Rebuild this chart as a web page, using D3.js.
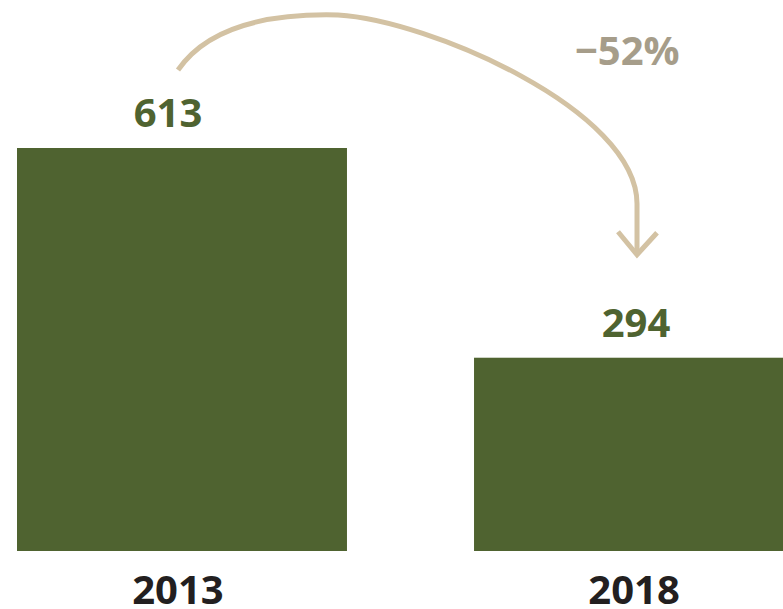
<!DOCTYPE html>
<html>
<head>
<meta charset="utf-8">
<script src="https://cdn.jsdelivr.net/npm/d3@7"></script>
<style>
  body { margin: 0; background: #fff; }
  svg text { font-family: "Open Sans", sans-serif; font-weight: 700; }
</style>
</head>
<body>
<div id="chart"></div>
<script>
const years = ["2013", "2018"];
const values = [613, 294];
const changeLabel = ["\u221252%"];

const width = 783;
const height = 609;
const barColor = "#4f6330";
const arrowColor = "#d3c2a3";

const svg = d3.select("#chart").append("svg")
  .attr("width", width)
  .attr("height", height);

//------------------------------------------------------------- scales
let x = d3.scaleBand()
  .domain(years)
  .range([17, 804])
  .paddingInner(0.278)
  .paddingOuter(0);

let y = d3.scaleLinear()
  .domain([0, 613])
  .range([551, 148]);

let data = years.map((d, i) => ({ year: d, value: values[i] }));

//------------------------------------------------------------- bars
svg.selectAll("rect.bar")
  .data(data)
  .enter().append("rect")
  .attr("class", "bar")
  .attr("x", d => x(d.year))
  .attr("y", d => y(d.value))
  .attr("width", x.bandwidth())
  .attr("height", d => y(0) - y(d.value))
  .attr("fill", barColor);

//------------------------------------------------------------- value labels
const labelShift = [-14, -3];
svg.selectAll("text.value")
  .data(data)
  .enter().append("text")
  .attr("class", "value")
  .attr("x", (d, i) => x(d.year) + x.bandwidth() / 2 + labelShift[i])
  .attr("y", d => y(d.value) - 21)
  .attr("text-anchor", "middle")
  .attr("font-size", 40)
  .attr("fill", barColor)
  .text(d => d.value);

//------------------------------------------------------------- year labels
const yearShift = [-4, -5];
svg.selectAll("text.year")
  .data(data)
  .enter().append("text")
  .attr("class", "year")
  .attr("x", (d, i) => x(d.year) + x.bandwidth() / 2 + yearShift[i])
  .attr("y", 604)
  .attr("text-anchor", "middle")
  .attr("font-size", 40)
  .attr("fill", "#231f20")
  .text(d => d.year);

//------------------------------------------------------------- arrow
let sx = x(years[0]) + x.bandwidth() / 2 - 4;
let sy = y(values[0]) - 78;
let ex = x(years[1]) + x.bandwidth() / 2 - 2;
let ey = y(values[1]) - 104;

let p = d3.path();
p.moveTo(sx, sy);
p.quadraticCurveTo(sx + 40, sy - 58, sx + 160, sy - 55);
p.bezierCurveTo(sx + 250, sy - 50, ex, sy + 40, ex, ey - 50);
p.lineTo(ex, ey);

svg.append("path")
  .attr("d", p.toString())
  .attr("fill", "none")
  .attr("stroke", arrowColor)
  .attr("stroke-width", 5);

svg.append("path")
  .attr("d", "M" + (ex - 19) + "," + (ey - 22) + "L" + ex + "," + (ey + 1) + "L" + (ex + 20) + "," + (ey - 21))
  .attr("fill", "none")
  .attr("stroke", arrowColor)
  .attr("stroke-width", 5);

svg.append("text")
  .attr("x", 575)
  .attr("y", 65)
  .attr("font-size", 40)
  .attr("fill", "#a69d8a")
  .text(changeLabel[0]);
</script>
</body>
</html>
